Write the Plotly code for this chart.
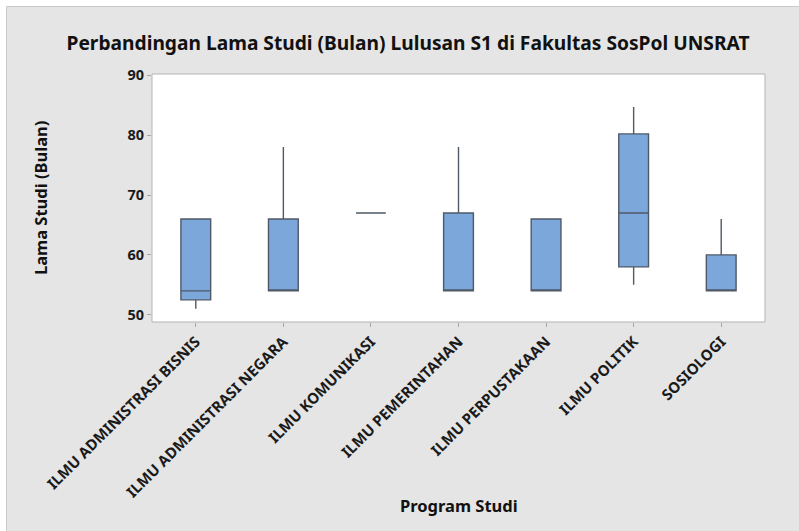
import plotly.graph_objects as go

categories = ["ILMU ADMINISTRASI BISNIS", "ILMU ADMINISTRASI NEGARA", "ILMU KOMUNIKASI",
              "ILMU PEMERINTAHAN", "ILMU PERPUSTAKAAN", "ILMU POLITIK", "SOSIOLOGI"]
lower_fence = [51, 54, 67, 54, 54, 55, 54]
q1_values = [52.5, 54, 67, 54, 54, 58, 54]
median_values = [54, 54, 67, 54, 54, 67, 54]
q3_values = [66, 66, 67, 67, 66, 80.2, 60]
upper_fence = [66, 78, 67, 78, 66, 84.7, 66]
y_ticks = [50, 60, 70, 80, 90]

W, H = 799, 531
L, R, T, B = 152, 765, 74, 322
pw, ph = R - L, B - T

def px(x):
    return (x - L) / pw

def py(y):
    return (B - y) / ph

FONT = "Noto Sans"

fig = go.Figure()
fig.add_trace(go.Box(
    x=categories,
    q1=q1_values,
    median=median_values,
    q3=q3_values,
    lowerfence=lower_fence,
    upperfence=upper_fence,
    boxpoints=False,
    width=0.34,
    whiskerwidth=0,
    fillcolor="#7BA7DA",
    line=dict(color="#4f5967", width=1.4),
    showlegend=False,
    hoverinfo="skip",
))

fig.update_layout(
    width=W, height=H,
    margin=dict(l=L, r=W - R, t=T, b=H - B, autoexpand=False),
    paper_bgcolor="white",
    plot_bgcolor="rgba(0,0,0,0)",
    font=dict(family=FONT, color="#1a1a1a"),
    title=dict(
        text="Perbandingan Lama Studi (Bulan) Lulusan S1 di Fakultas SosPol UNSRAT",
        x=(408) / W, xanchor="center",
        y=1 - 43 / H, yanchor="middle",
        font=dict(family=FONT, size=19.2, weight="bold", color="#111"),
    ),
    shapes=[
        dict(type="rect", xref="paper", yref="paper", layer="below",
             x0=px(6.5), x1=px(810), y0=py(6.5), y1=py(545),
             fillcolor="#e5e5e5", line=dict(color="#c9c9c9", width=1)),
        dict(type="rect", xref="paper", yref="paper", layer="below",
             x0=0, x1=1, y0=0, y1=1,
             fillcolor="white", line=dict(color="#b3b3b3", width=1)),
    ],
    annotations=[
        dict(text="Lama Studi (Bulan)", xref="paper", yref="paper",
             x=px(40), y=py(198), xanchor="center", yanchor="middle",
             textangle=-90, showarrow=False,
             font=dict(family=FONT, size=16.5, weight="bold", color="#111")),
        dict(text="Program Studi", xref="paper", yref="paper",
             x=px(459), y=py(505), xanchor="center", yanchor="middle",
             showarrow=False,
             font=dict(family=FONT, size=16.5, weight="bold", color="#111")),
    ],
)

fig.update_yaxes(
    range=[48.8, 90.2],
    tickvals=y_ticks,
    ticks="outside", ticklen=4, tickcolor="#a8a8a8", tickwidth=1,
    showgrid=False, zeroline=False,
    showline=False,
    tickfont=dict(family=FONT, size=14.5, weight="bold", color="#1a1a1a"),
)
fig.update_xaxes(
    range=[-0.5, 6.5],
    tickangle=-45,
    ticks="outside", ticklen=4, tickcolor="#a8a8a8", tickwidth=1,
    showgrid=False, zeroline=False,
    showline=False,
    tickfont=dict(family=FONT, size=15, weight="bold", color="#1a1a1a"),
)

fig.write_html("out.html", config={"displayModeBar": False},
               post_script="document.body.style.margin='0';document.body.style.padding='0';")
